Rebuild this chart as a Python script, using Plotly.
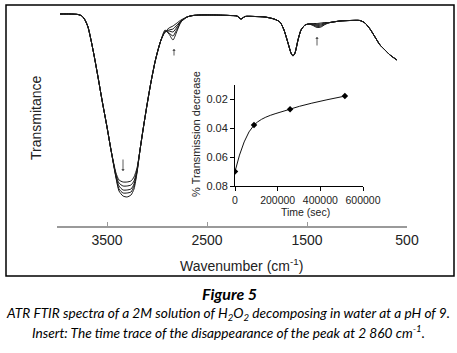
import plotly.graph_objects as go

# ---------------- main spectra (wavenumber cm-1, transmittance a.u.) ----------------
wn_a = [3970, 3870, 3790, 3750, 3720, 3690, 3660, 3630, 3590, 3550, 3500, 3460]
t_a = [98, 98, 97.75, 97, 95, 91.5, 85, 77.5, 66.5, 55, 41.5, 30]

wn_band = [3410, 3380, 3340, 3300, 3260, 3230, 3200]
t_band = [
    [18.5, 15, 14, 14, 14.5, 16.5, 21],
    [17.5, 13.5, 12, 12, 12.5, 14.5, 20],
    [17, 12, 10, 10, 10.5, 13, 19.5],
    [16.5, 10.5, 8.5, 8.5, 9, 12, 19],
    [16, 9.5, 7, 6.5, 7.5, 10.5, 18.5],
]

wn_c = [3170, 3140, 3100, 3060, 3020, 2990]
t_c = [30, 40, 52.5, 64, 74, 80]

wn_sh = [2960, 2920, 2880, 2840, 2800, 2760, 2700]
t_sh = [
    [85, 89, 91, 92, 93.5, 95, 96.5],
    [85, 89, 90, 90.5, 92.5, 94.5, 96.5],
    [85, 89, 89.5, 89, 91.5, 94.5, 96.5],
    [85, 89.5, 88.5, 87, 90.5, 94, 96.5],
    [85, 90, 88, 85, 89.5, 94, 96.5],
]

wn_e = [2640, 2570, 2420, 2270, 2200, 2160, 2120, 2020, 1920, 1830, 1770, 1730,
        1690, 1660, 1640, 1620, 1590, 1560, 1520, 1480]
t_e = [97.25, 97.5, 97.5, 97.25, 97, 95.5, 96.75, 96.75, 96.5, 95.5, 94, 90,
       83.5, 78.5, 77, 78.5, 85, 90, 92.5, 93]

wn_f = [1440, 1400, 1360, 1320]
t_f = [
    [93.25, 93.25, 93.5, 93.75],
    [93, 92.75, 93, 93.5],
    [92.75, 92.25, 92.5, 93.25],
    [92.5, 91.75, 92, 93],
    [92.25, 91.25, 91.5, 92.75],
]

wn_g = [1270, 1170, 1070, 970, 920, 870, 820, 770, 720, 670, 600]
t_g = [93.75, 94.5, 94.75, 94.75, 93.5, 90.5, 86.5, 82.5, 80, 77.5, 75]

main_ticks = [3500, 2500, 1500, 500]

# ---------------- insert: time trace ----------------
time_s = [0, 89000, 258000, 515000]
trans_decrease = [0.070, 0.038, 0.027, 0.018]
ins_xticks = [0, 200000, 400000, 600000]
ins_yticks = [0.02, 0.04, 0.06, 0.08]

# arrows (wavenumber, transmittance of arrow head, tail offset px)
arrow_wn = [3340, 2830, 1400]
arrow_t = [19.5, 80.5, 86.5]
arrow_dy = [-13, 8, 10]

fig = go.Figure()

wn_all = wn_a + wn_band + wn_c + wn_sh + wn_e + wn_f + wn_g
for i in range(5):
    tt = t_a + t_band[i] + t_c + t_sh[i] + t_e + t_f[i] + t_g
    fig.add_trace(go.Scatter(
        x=wn_all, y=tt, mode="lines",
        line=dict(color="#1a1a1a", width=1, shape="spline", smoothing=0.6),
        hoverinfo="skip", showlegend=False, xaxis="x", yaxis="y"))

fig.add_trace(go.Scatter(
    x=time_s, y=trans_decrease, mode="lines+markers",
    line=dict(color="#111", width=1, shape="spline", smoothing=1),
    marker=dict(symbol="diamond", size=5, color="#000"),
    showlegend=False, xaxis="x2", yaxis="y2"))

# geometry helpers (pixels of the 457x353 canvas)
L, R, T, B = 57, 407, 10, 226
W, H = R - L, B - T
def px(x):
    return (x - L) / W
def py(y):
    return (B - y) / H

font_main = "Liberation Sans, Arial, sans-serif"
cap_font = "Lato, Roboto, sans-serif"

annotations = []
for xw, yt, dy in zip(arrow_wn, arrow_t, arrow_dy):
    annotations.append(dict(x=xw, y=yt, xref="x", yref="y", text="", showarrow=True,
                            ax=0, ay=dy, arrowhead=1, arrowsize=0.7, arrowwidth=0.8,
                            arrowcolor="#333", standoff=0))

def label(xp, yp, text, size, family=font_main, angle=0, color="#222"):
    return dict(x=px(xp), y=py(yp), xref="paper", yref="paper", text=text,
                textangle=angle, showarrow=False, xanchor="center", yanchor="middle",
                font=dict(family=family, size=size, color=color))

annotations += [
    label(36, 118, "Transmitance", 14, angle=-90),
    label(241, 265, "Wavenumber (cm<sup>-1</sup>)", 14),
    label(196, 134, "% Transmission decrease", 11, angle=-90),
    label(305, 212, "Time (sec)", 10.5),
    label(229, 293, "<b><i>Figure 5</i></b>", 16, family=cap_font, color="#000"),
    label(228, 313, "<i>ATR FTIR spectra of a 2M solution of H<sub>2</sub>O<sub>2</sub> decomposing in water at a pH of 9.</i>",
          13.7, family=cap_font, color="#000"),
    label(228, 332, "<i>Insert: The time trace of the disappearance of the peak at 2 860 cm<sup>-1</sup>.</i>",
          13.7, family=cap_font, color="#000"),
]

shapes = [dict(type="rect", xref="paper", yref="paper",
               x0=px(6), x1=px(454), y0=py(276), y1=py(5),
               line=dict(color="#000", width=1.5))]

fig.update_layout(
    width=457, height=353,
    margin=dict(l=L, r=457 - R, t=T, b=353 - B),
    paper_bgcolor="white", plot_bgcolor="white",
    showlegend=False,
    xaxis=dict(range=[4000, 500], tickvals=main_ticks, ticktext=[str(v) for v in main_ticks],
               showline=True, linecolor="#9a9a9a", linewidth=1.5,
               ticks="inside", ticklen=4, tickcolor="#9a9a9a", tickwidth=1,
               showgrid=False, zeroline=False,
               tickfont=dict(family=font_main, size=14, color="#222")),
    yaxis=dict(range=[-8, 100], visible=False, showgrid=False, zeroline=False),
    xaxis2=dict(domain=[px(235), px(363)], anchor="y2", range=[0, 600000],
                tickvals=ins_xticks, ticktext=[str(v) for v in ins_xticks],
                showline=True, linecolor="#000", linewidth=1,
                ticks="outside", ticklen=4, tickcolor="#000",
                showgrid=False, zeroline=False,
                tickfont=dict(family=font_main, size=10.5, color="#222")),
    yaxis2=dict(domain=[py(186), py(84.5)], anchor="x2", range=[0.08, 0.01],
                tickvals=ins_yticks, ticktext=["%.2f" % v for v in ins_yticks],
                showline=True, linecolor="#000", linewidth=1,
                ticks="outside", ticklen=4, tickcolor="#000",
                showgrid=False, zeroline=False,
                tickfont=dict(family=font_main, size=11, color="#222")),
    annotations=annotations, shapes=shapes,
)

fig.write_html("out.html", config={"displayModeBar": False},
               post_script="document.body.style.margin='0';document.body.style.overflow='hidden';")
